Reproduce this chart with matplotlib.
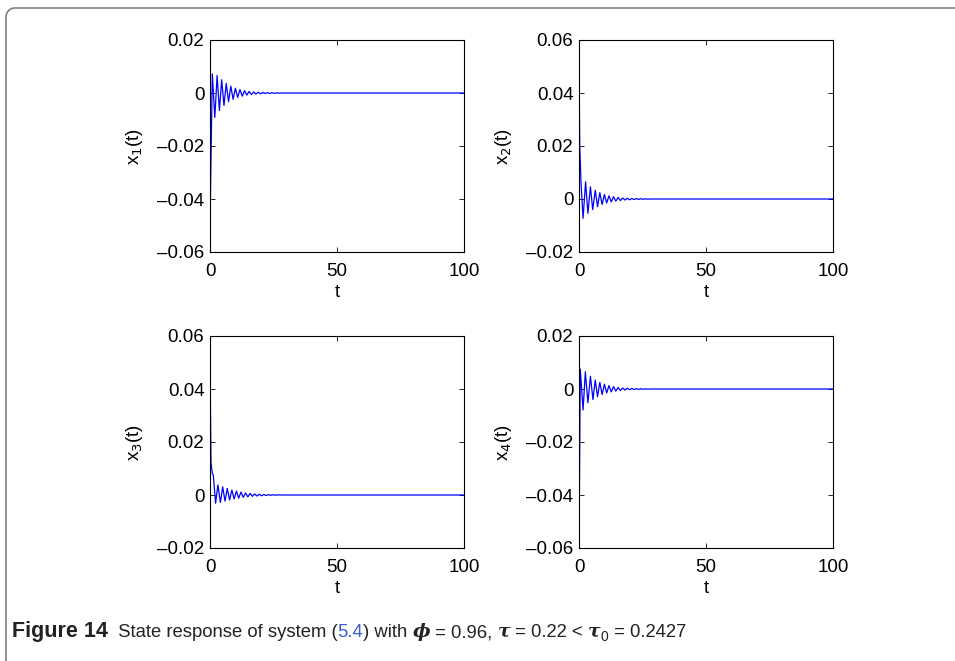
import numpy as np
import matplotlib
matplotlib.use("Agg")
import matplotlib.pyplot as plt
from matplotlib.lines import Line2D

plt.rcParams['font.family'] = ['Liberation Sans', 'DejaVu Sans']

# turning points of each state trajectory (t, value); all states sit at 0 after t ~ 28
t1 = [0, 0.9, 1.9, 2.8, 3.7, 4.6, 5.5, 6.4, 7.3, 8.2, 9.1, 10.0, 10.9, 11.8, 12.7,
      13.6, 14.5, 15.4, 16.3, 17.2, 18.1, 19.0, 19.9, 20.8, 21.7, 22.6, 23.5,
      24.4, 25.3, 26.2, 27.1, 28.0, 100]
x1 = [-0.05, 0.0072, -0.0092, 0.0066, -0.0066, 0.0050, -0.0047, 0.0036, -0.0033,
      0.0026, -0.0024, 0.0018, -0.0017, 0.0013, -0.0012, 0.0009, -0.0008, 0.0006,
      -0.0006, 0.0004, -0.0004, 0.0003, -0.0003, 0.0002, -0.0002, 0.00015,
      -0.00015, 0.0001, -0.0001, 0.00006, -0.00006, 0, 0]

t2 = [0, 0.3, 0.8, 1.6, 2.6, 3.5, 4.5, 5.4, 6.4, 7.3, 8.2, 9.1, 10.0, 10.9, 11.8,
      12.7, 13.6, 14.5, 15.4, 16.3, 17.2, 18.1, 19.0, 19.9, 20.8, 21.7, 22.6,
      23.5, 24.4, 25.3, 26.2, 27.1, 28.0, 100]
x2 = [0.05, 0.02, 0.006, -0.0073, 0.0065, -0.0054, 0.0046, -0.0040, 0.0033,
      -0.0029, 0.0024, -0.0021, 0.0017, -0.0015, 0.0012, -0.0011, 0.0009, -0.0008,
      0.0006, -0.0006, 0.0004, -0.0004, 0.0003, -0.0003, 0.0002, -0.0002,
      0.00015, -0.00015, 0.0001, -0.0001, 0.00006, -0.00006, 0, 0]

t3 = [0, 0.4, 0.9, 1.3, 2.2, 3.1, 4.1, 5.0, 5.9, 6.8, 7.7, 8.6, 9.5, 10.4, 11.3,
      12.2, 13.1, 14.0, 14.9, 15.8, 16.7, 17.6, 18.5, 19.4, 20.3, 21.2, 22.1,
      23.0, 23.9, 24.8, 25.7, 26.6, 28.0, 100]
x3 = [0.05, 0.012, 0.0082, 0.0075, -0.0031, 0.0038, -0.0028, 0.0031, -0.0023,
      0.0025, -0.0019, 0.0019, -0.0015, 0.0015, -0.0012, 0.0011, -0.0009, 0.0008,
      -0.0007, 0.0006, -0.0005, 0.0004, -0.0004, 0.0003, -0.0003, 0.0002,
      -0.0002, 0.00015, -0.00012, 0.0001, -0.00008, 0.00005, 0, 0]

t4 = [0, 0.5, 1.6, 2.5, 3.5, 4.5, 5.5, 6.4, 7.3, 8.2, 9.1, 10.0, 10.9, 11.8, 12.7,
      13.6, 14.5, 15.4, 16.3, 17.2, 18.1, 19.0, 19.9, 20.8, 21.7, 22.6, 23.5,
      24.4, 25.3, 26.2, 27.1, 28.0, 100]
x4 = [-0.062, 0.0075, -0.0079, 0.0065, -0.0052, 0.0048, -0.0040, 0.0034, -0.0029,
      0.0025, -0.0021, 0.0018, -0.0015, 0.0013, -0.0011, 0.0009, -0.0008, 0.0006,
      -0.0006, 0.0004, -0.0004, 0.0003, -0.0003, 0.0002, -0.0002, 0.00015,
      -0.00015, 0.0001, -0.0001, 0.00006, -0.00006, 0, 0]

series = [(t1, x1, '1'), (t2, x2, '2'), (t3, x3, '3'), (t4, x4, '4')]

ylims = [(-0.06, 0.02), (-0.02, 0.06), (-0.02, 0.06), (-0.06, 0.02)]
xticks = [0, 50, 100]
yticks_lo = [-0.06, -0.04, -0.02, 0, 0.02]
yticks_hi = [-0.02, 0, 0.02, 0.04, 0.06]


def tick_text(v):
    if v == 0:
        return '0'
    s = '%.2f' % abs(v)
    return ('\u2013' + s) if v < 0 else s


W, H = 955, 661
fig = plt.figure(figsize=(W / 100, H / 100), dpi=100)

# axes boxes in pixels: left, top, width, height
boxes = [(210, 40), (579, 40), (210, 336), (579, 336)]
aw, ah = 254, 212

for (t, x, k), (left, top), yl in zip(series, boxes, ylims):
    ax = fig.add_axes([left / W, 1 - (top + ah) / H, aw / W, ah / H])
    ax.plot(t, x, color='#0000ff', lw=0.9)
    ax.set_xlim(0, 100)
    ax.set_ylim(*yl)
    ax.set_xticks(xticks)
    ax.set_xticklabels([str(v) for v in xticks])
    yt = yticks_lo if yl[0] == -0.06 else yticks_hi
    ax.set_yticks(yt)
    ax.set_yticklabels([tick_text(v) for v in yt])
    ax.tick_params(direction='in', length=3.5, width=0.6, labelsize=13.5,
                   top=True, right=True, pad=4)
    ax.tick_params(axis='x', pad=8)
    for sp in ax.spines.values():
        sp.set_linewidth(0.8)
    ax.set_xlabel('t', fontsize=13.5, labelpad=3)
    ax.set_ylabel(r'x$_{%s}$(t)' % k, fontsize=13.5, labelpad=9)

# frame around the figure: top edge and left edge with a rounded corner
r = 9
ang = np.linspace(np.pi, np.pi / 2, 20)
cx = 6 + r + r * np.cos(ang)
cy = 8 + r - r * np.sin(ang)
px = np.concatenate([[6], cx, [W]])
py = np.concatenate([[H], cy, [8]])
fig.add_artist(Line2D(px / W, 1 - py / H, color='#808080', lw=1.2,
                      transform=fig.transFigure))

# caption, laid out piece by piece
greek = dict(style='italic', weight='bold', family=['DejaVu Serif'], size=13.5)
pieces = [
    ('Figure 14', dict(weight='bold', size=15.5)),
    ('  State response of system (', {}),
    ('5.4', dict(color='#3b5bdb')),
    (') with ', {}),
    ('\u03d5', greek),
    (' = 0.96, ', {}),
    ('\u03c4', greek),
    (' = 0.22 < ', {}),
    ('\u03c4', greek),
    ('0', dict(size=10, dy=-4)),
    (' = 0.2427', {}),
]
fig.canvas.draw()
renderer = fig.canvas.get_renderer()
xpos = 12
base = 637
for txt, kw in pieces:
    kw = dict(kw)
    dy = kw.pop('dy', 0)
    size = kw.pop('size', 13.3)
    fam = kw.pop('family', ['Liberation Sans', 'DejaVu Sans'])
    color = kw.pop('color', '#222222')
    tx = fig.text(xpos / W, 1 - (base - dy) / H, txt, fontsize=size, family=fam,
                  color=color, va='baseline', ha='left', **kw)
    bb = tx.get_window_extent(renderer)
    xpos += bb.width

fig.savefig('out.png', dpi=100)
